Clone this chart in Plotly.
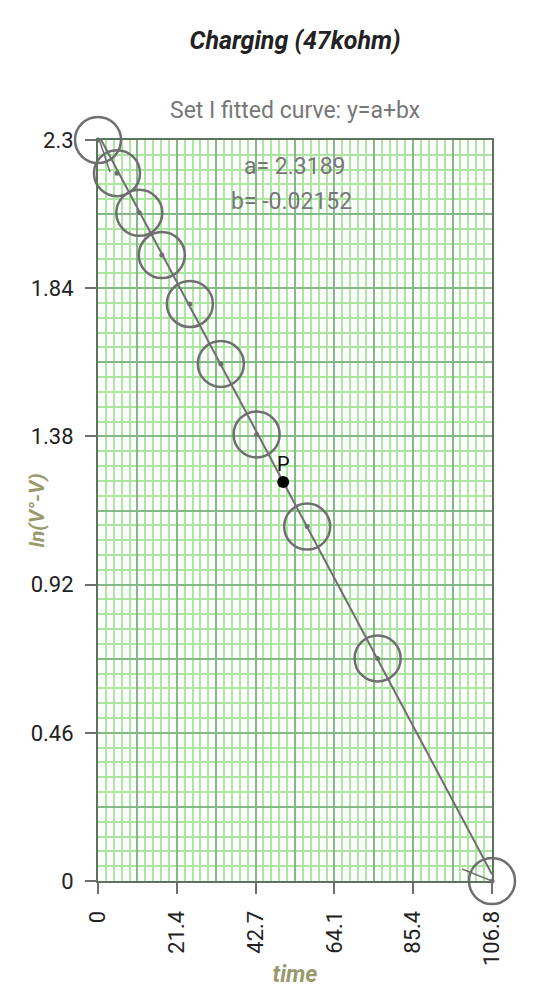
import numpy as np
import plotly.graph_objects as go

# ---- data ----
time_vals = [0, 5.15, 11.2, 17.3, 24.9, 33.3, 43.0, 56.7, 75.8, 106.8]
ln_vals = [2.30, 2.197, 2.074, 1.943, 1.791, 1.605, 1.386, 1.100, 0.691, 0.0]
fit_a = 2.3189
fit_b = -0.02152
p_time = 50.2
x_tick_vals = [0, 21.36, 42.72, 64.08, 85.44, 106.8]
x_tick_text = ["0", "21.4", "42.7", "64.1", "85.4", "106.8"]
y_tick_vals = [0, 0.46, 0.92, 1.38, 1.84, 2.3]
y_tick_text = ["0", "0.46", "0.92", "1.38", "1.84", "2.3"]

X_MAX = x_tick_vals[-1]
Y_MAX = y_tick_vals[-1]

FONT = "Roboto"
GRAY = "#6f6f6f"
OLIVE = "#999a6c"
MINOR = "#ade5a3"
MAJOR = "#84b884"
FRAME = "#5c745c"

fig = go.Figure()

# fitted line
fx = np.array([0, X_MAX])
fig.add_trace(go.Scatter(x=fx, y=fit_a + fit_b * fx, mode="lines",
                         line=dict(color=GRAY, width=2), hoverinfo="skip"))
# open circles
fig.add_trace(go.Scatter(x=time_vals, y=ln_vals, mode="markers", cliponaxis=False,
                         marker=dict(symbol="circle-open", size=46, color=GRAY,
                                     line=dict(width=2.5, color=GRAY))))
# centre dots
fig.add_trace(go.Scatter(x=time_vals, y=ln_vals, mode="markers", cliponaxis=False,
                         marker=dict(symbol="circle", size=5, color=GRAY)))
# point P
p_val = fit_a + fit_b * p_time
fig.add_trace(go.Scatter(x=[p_time], y=[p_val], mode="markers", cliponaxis=False,
                         marker=dict(size=12, color="#000")))
fig.add_annotation(x=p_time, y=p_val, text="P", showarrow=False, yshift=18,
                   font=dict(family=FONT, size=20, color="#111"))
# dummy trace for label axes
fig.add_trace(go.Scatter(x=[None], y=[None], xaxis="x2", yaxis="y2", showlegend=False))

half_x = list(np.linspace(0, X_MAX, 11))
fine_x = list(np.linspace(0, X_MAX, 51))
half_y = list(np.linspace(0, Y_MAX, 11))
fine_y = list(np.linspace(0, Y_MAX, 51))

axis_common = dict(zeroline=False, showline=True, linecolor=FRAME, linewidth=1.5, mirror=True,
                   showticklabels=False, ticks="", gridcolor=MAJOR, gridwidth=1.5,
                   automargin=False)

fig.update_layout(
    width=560, height=996,
    margin=dict(l=98, r=68, t=140, b=115, autoexpand=False),
    paper_bgcolor="white", plot_bgcolor="white",
    showlegend=False,
    font=dict(family=FONT),
    title=dict(text="<b><i>Charging (47kohm)</i></b>", x=0.5, xref="paper",
               y=1 - 40 / 996, yanchor="middle", yref="container",
               font=dict(family=FONT, size=25, color="#222")),
    xaxis=dict(range=[0, X_MAX], tickmode="array", tickvals=half_x,
               minor=dict(tickmode="array", tickvals=fine_x, showgrid=True,
                          gridcolor=MINOR, gridwidth=1.5),
               **axis_common),
    yaxis=dict(range=[0, Y_MAX], tickmode="array", tickvals=half_y,
               minor=dict(tickmode="array", tickvals=fine_y, showgrid=True,
                          gridcolor=MINOR, gridwidth=1.5),
               **axis_common),
    xaxis2=dict(overlaying="x", anchor="y2", side="bottom", range=[0, X_MAX],
                tickmode="array", tickvals=x_tick_vals, ticktext=x_tick_text,
                tickangle=-90, ticks="outside", ticklen=12, tickwidth=1.5, tickcolor=GRAY,
                ticklabelstandoff=8, automargin=False,
                tickfont=dict(family=FONT, size=22, color="#222"),
                showgrid=False, zeroline=False, showline=False,
                title=dict(text="<b><i>time</i></b>", standoff=0,
                           font=dict(family=FONT, size=23, color=OLIVE))),
    yaxis2=dict(overlaying="y", anchor="x2", side="left", range=[0, Y_MAX],
                tickmode="array", tickvals=y_tick_vals, ticktext=y_tick_text,
                ticks="outside", ticklen=12, tickwidth=1.5, tickcolor=GRAY,
                ticklabelstandoff=7, automargin=False,
                tickfont=dict(family=FONT, size=22, color="#222"),
                showgrid=False, zeroline=False, showline=False),
)

# y-axis title (placed manually to overlap tick-label column like the reference)
fig.add_annotation(text="<b><i>ln(V°-V)</i></b>", xref="paper", yref="paper",
                   x=(36 - 98) / 394, y=0.5, textangle=-90, showarrow=False,
                   xanchor="center", yanchor="middle",
                   font=dict(family=FONT, size=21, color=OLIVE))

# subtitle and fit parameters
fig.add_annotation(text="Set I fitted curve: y=a+bx", xref="paper", yref="paper",
                   x=0.5, y=(881 - 111) / 741, showarrow=False, yanchor="middle",
                   font=dict(family=FONT, size=23, color="#777"))
fig.add_annotation(text=f"a= {fit_a}", xref="paper", yref="paper",
                   x=0.5, y=(881 - 166) / 741, showarrow=False, yanchor="middle",
                   font=dict(family=FONT, size=23, color="#777"))
fig.add_annotation(text=f"b= {fit_b}", xref="paper", yref="paper",
                   x=0.49, y=(881 - 201) / 741, showarrow=False, yanchor="middle",
                   font=dict(family=FONT, size=23, color="#777"))

# axis arrowheads
arrow = dict(color=GRAY, width=1.5)
for dx in (-12, 12):
    fig.add_shape(type="line", xref="x", yref="y", xsizemode="pixel", ysizemode="pixel",
                  xanchor=0, yanchor=Y_MAX, x0=0, y0=4, x1=dx, y1=-32, line=arrow)
for dy in (-12, 12):
    fig.add_shape(type="line", xref="x", yref="y", xsizemode="pixel", ysizemode="pixel",
                  xanchor=X_MAX, yanchor=0, x0=0, y0=0, x1=-30, y1=dy, line=arrow)

fig.write_html("out.html")
